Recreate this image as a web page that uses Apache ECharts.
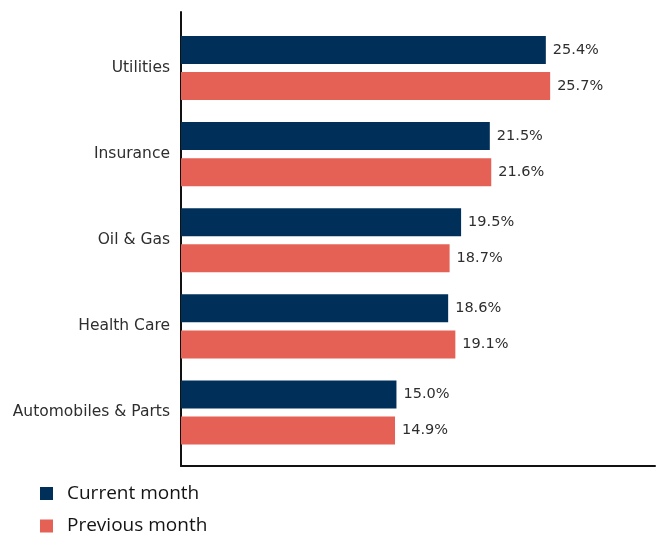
<!DOCTYPE html>
<html>
<head>
<meta charset="utf-8">
<script src="https://cdn.jsdelivr.net/npm/echarts@6/dist/echarts.min.js"></script>
<style>
  html, body { margin: 0; padding: 0; background: #fff; }
  #chart { width: 657px; height: 533px; }
</style>
</head>
<body>
<div id="chart"></div>
<script>
// Sector shares, current vs previous month (%)
const categories = ['Utilities', 'Insurance', 'Oil & Gas', 'Health Care', 'Automobiles & Parts'];
const currentMonth = [25.4, 21.5, 19.5, 18.6, 15.0];
const previousMonth = [25.7, 21.6, 18.7, 19.1, 14.9];
const seriesNames = ['Current month', 'Previous month'];

const NAVY = '#00305A';
const CORAL = '#E56155';
const LABEL_FONT = 'DejaVu Sans';

const chart = echarts.init(document.getElementById('chart'), null, { renderer: 'canvas' });

const valueLabel = {
  show: true,
  position: 'right',
  distance: 7,
  color: '#2e2e2e',
  fontFamily: LABEL_FONT,
  fontSize: 14.5,
  formatter: p => p.value.toFixed(1) + '%'
};

// one stacked legend entry per series
const legendEntry = (name, top) => ({
  orient: 'vertical',
  left: 40,
  top: top,
  padding: 0,
  itemWidth: 13,
  itemHeight: 13,
  icon: 'rect',
  textStyle: { fontFamily: 'Open Sans', fontSize: 19, color: '#141414', padding: [0, 0, 0, 9] },
  data: [name]
});

chart.setOption({
  animation: false,
  legend: [
    legendEntry(seriesNames[0], 484),
    legendEntry(seriesNames[1], 516.5)
  ],
  grid: [
    // plotting area for the bars
    { left: 181, right: 2, top: 25, bottom: 533 - 455.5, containLabel: false },
    // frame carrying the axis lines
    { left: 181, right: 2, top: 12, bottom: 533 - 466, containLabel: false }
  ],
  xAxis: [
    {
      gridIndex: 0, type: 'value', min: 0, max: 33,
      axisLine: { show: false }, axisTick: { show: false },
      axisLabel: { show: false }, splitLine: { show: false }
    },
    {
      gridIndex: 1, type: 'value', min: 0, max: 1,
      axisLine: { show: true, onZero: false, lineStyle: { color: '#111', width: 2 } },
      axisTick: { show: false }, axisLabel: { show: false }, splitLine: { show: false }
    }
  ],
  yAxis: [
    {
      gridIndex: 0, type: 'category', data: categories, inverse: true,
      axisLine: { show: false }, axisTick: { show: false },
      axisLabel: { margin: 11, color: '#2e2e2e', fontFamily: LABEL_FONT, fontSize: 15.5 }
    },
    {
      gridIndex: 1, type: 'value', min: 0, max: 1,
      axisLine: { show: true, onZero: false, lineStyle: { color: '#111', width: 2 } },
      axisTick: { show: false }, axisLabel: { show: false }, splitLine: { show: false }
    }
  ],
  series: [
    {
      name: seriesNames[0], type: 'bar', xAxisIndex: 0, yAxisIndex: 0,
      data: currentMonth, barWidth: 28, barGap: '29%',
      itemStyle: { color: NAVY }, label: valueLabel
    },
    {
      name: seriesNames[1], type: 'bar', xAxisIndex: 0, yAxisIndex: 0,
      data: previousMonth, barWidth: 28, barGap: '29%',
      itemStyle: { color: CORAL }, label: valueLabel
    }
  ]
});
</script>
</body>
</html>
